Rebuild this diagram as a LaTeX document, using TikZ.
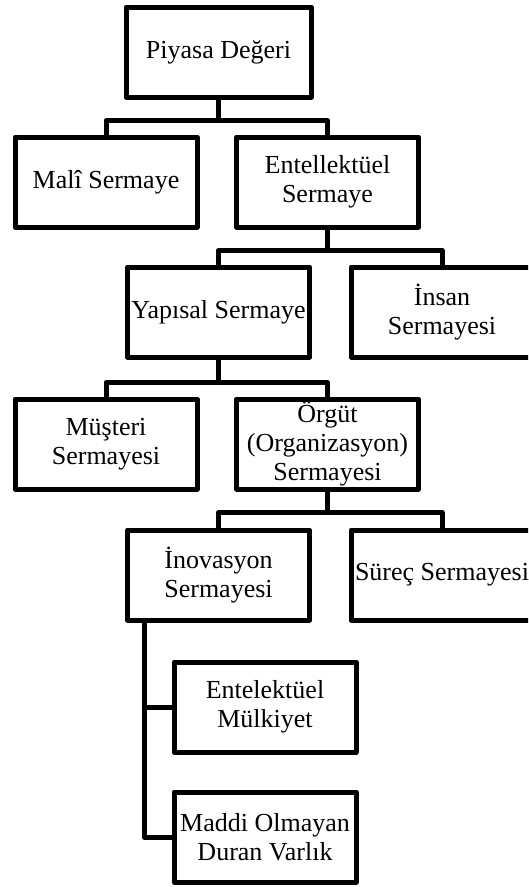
\documentclass[tikz,border=0pt]{standalone}
\usepackage{fontspec}
\setmainfont{Liberation Serif}
\tikzset{
    orgbox/.style={draw, line width=5pt, line join=round, fill=white,
        minimum width=182pt, minimum height=90pt, inner sep=0pt,
        align=center, font=\fontsize{26}{29}\selectfont},
    link/.style={line width=5pt, line join=round}
}
\begin{document}
\begin{tikzpicture}[x=1pt,y=-1pt]
    \clip (0,0) rectangle (528,887);
    %% Top
    \node[orgbox,minimum width=185pt] (piyasa) at (218.5,52) {Piyasa Değeri};
    %% Second row
    \node[orgbox] (mali) at (106,182) {Malî Sermaye};
    \node[orgbox] (entel) at (327.5,182) {Entellektüel\\Sermaye};
    %% Third row
    \node[orgbox] (yapisal) at (218.5,312) {Yapısal Sermaye};
    \node[orgbox] (insan) at (442,312) {İnsan\\Sermayesi};
    %% Fourth row
    \node[orgbox] (musteri) at (106,444) {Müşteri\\Sermayesi};
    \node[orgbox] (orgut) at (327.5,444) {Örgüt\\(Organizasyon)\\Sermayesi};
    %% Fifth row
    \node[orgbox] (inov) at (218.5,575) {İnovasyon\\Sermayesi};
    \node[orgbox] (surec) at (442,575) {Süreç Sermayesi};
    %% Below inovasyon
    \node[orgbox] (mulk) at (265,707) {Entelektüel\\Mülkiyet};
    \node[orgbox] (maddi) at (265,837) {Maddi Olmayan\\Duran Varlık};
    %% Connectors
    \draw[link] (piyasa.south) -- ++(0,21) -| (mali.north);
    \draw[link] (piyasa.south) -- ++(0,21) -| (entel.north);
    \draw[link] (entel.south) -- ++(0,21) -| (yapisal.north);
    \draw[link] (entel.south) -- ++(0,21) -| (insan.north);
    \draw[link] (yapisal.south) -- ++(0,23) -| (musteri.north);
    \draw[link] (yapisal.south) -- ++(0,23) -| (orgut.north);
    \draw[link] (orgut.south) -- ++(0,21) -| (inov.north);
    \draw[link] (orgut.south) -- ++(0,21) -| (surec.north);
    \draw[link] ([xshift=19pt]inov.south west) |- (mulk.west);
    \draw[link] ([xshift=19pt]inov.south west) |- (maddi.west);
\end{tikzpicture}
\end{document}
